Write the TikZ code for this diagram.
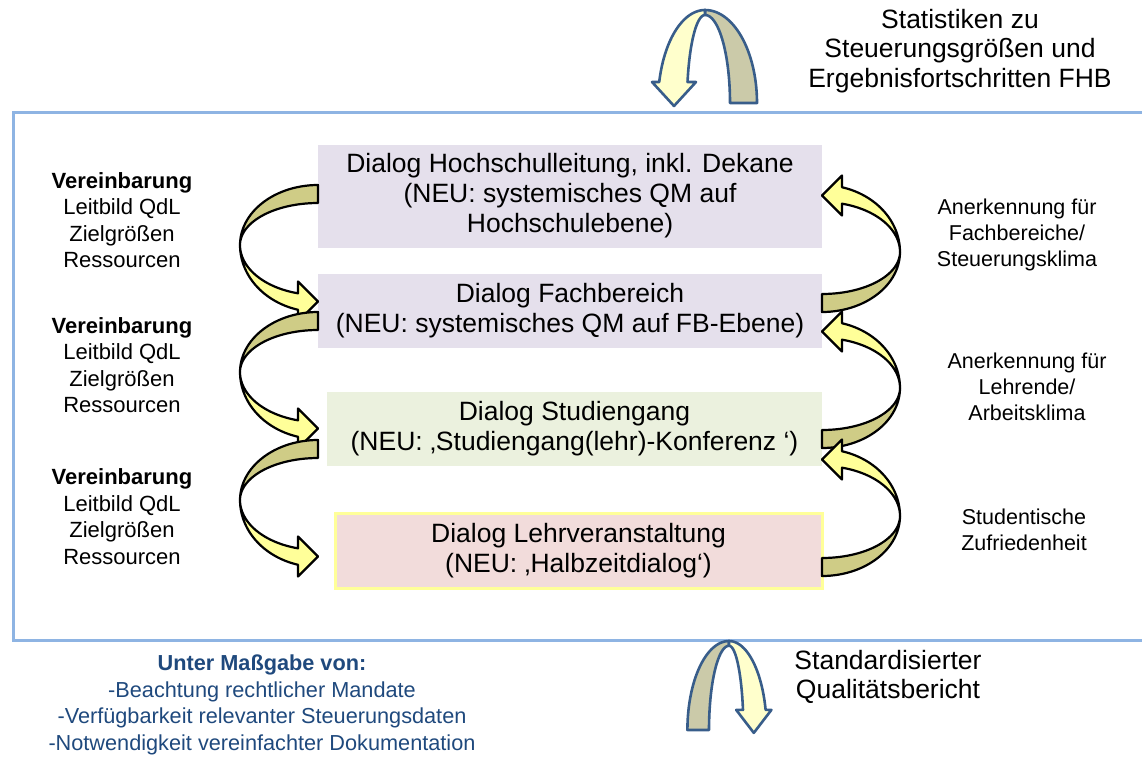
\documentclass[tikz,border=0pt]{standalone}
\usepackage{fontspec}
\setmainfont{Liberation Sans}
\usepackage{tikz}

\definecolor{rahmenblau}{HTML}{8EB4E3}
\definecolor{boxlila}{HTML}{E5E0EC}
\definecolor{boxgruen}{HTML}{EBF1DE}
\definecolor{boxrosa}{HTML}{F2DCDB}
\definecolor{randgelb}{HTML}{FFFF99}
\definecolor{pfeilgelb}{HTML}{FFFF99}
\definecolor{pfeiloliv}{HTML}{CFCC86}
\definecolor{bogengelb}{HTML}{FFFFCC}
\definecolor{bogenoliv}{HTML}{CBCAA9}
\definecolor{bogenrand}{HTML}{385D8A}
\definecolor{textblau}{HTML}{1F497D}

\tikzset{
  dialogbox/.style={minimum width=504pt, minimum height=74pt, inner sep=0pt, align=center,
    font=\fontsize{26.5}{30}\selectfont},
  linkstext/.style={align=center, inner sep=0pt, font=\fontsize{22}{26.5}\selectfont},
  rechtstext/.style={align=center, inner sep=0pt, font=\fontsize{21.5}{26}\selectfont},
  grosstext/.style={align=center, inner sep=0pt, font=\fontsize{26.5}{29.5}\selectfont},
  pfeilrand/.style={draw=black, line width=2.2pt, line join=round},
  bogenrand/.style={draw=bogenrand, line width=2.6pt, line join=round},
  % gedrehter Pfeil zwischen zwei Ebenen
  wendepfeil/.pic={
    \filldraw[pfeilrand, fill=pfeiloliv] (0,-60)
      -- plot[domain=270:180, samples=30] ({78*cos(\x)},{60*sin(\x)})
      -- plot[domain=180:270, samples=30] ({78*cos(\x)},{42*sin(\x)}) -- cycle;
    \filldraw[pfeilrand, fill=pfeilgelb] (-78,0)
      -- plot[domain=180:104.86, samples=30] ({78*cos(\x)},{67*sin(\x)})
      -- (-20,76.5) -- (0,56.5) -- (-20,36.5)
      -- plot[domain=104.86:180, samples=30] ({78*cos(\x)},{50*sin(\x)}) -- cycle;
  },
  % Bogenpfeil oben/unten
  bogenpfeil/.pic={
    \filldraw[bogenrand, fill=bogenoliv] (52,0)
      -- plot[domain=360:270, samples=30] ({52*cos(\x)},{93*sin(\x)})
      -- (0,-88)
      -- plot[domain=270:360, samples=30] ({25*cos(\x)},{88*sin(\x)}) -- cycle;
    \filldraw[bogenrand, fill=bogengelb] (0,-93)
      -- plot[domain=270:193.05, samples=30] ({47*cos(\x)},{93*sin(\x)})
      -- (-53,-21) -- (-31,3) -- (-9,-21)
      -- plot[domain=193.8:270, samples=30] ({18*cos(\x)},{88*sin(\x)}) -- cycle;
  }
}

\begin{document}
\begin{tikzpicture}[x=1pt, y=-1pt]
\useasboundingbox (0,0) rectangle (1142,758);

% Rahmen
\draw[rahmenblau, line width=3pt] (13,112) rectangle (1160,640);

% Dialogebenen
\node[dialogbox, fill=boxlila, minimum height=103pt] (hsl) at (570,196)
  {Dialog Hochschulleitung, inkl. Dekane\\(NEU: systemisches QM auf\\Hochschulebene)};
\node[dialogbox, fill=boxlila] (fb) at (570,311)
  {Dialog Fachbereich\\(NEU: systemisches QM auf FB-Ebene)};
\node[dialogbox, fill=boxgruen, minimum width=495pt] (sg) at (574.5,429)
  {Dialog Studiengang\\(NEU: ‚Studiengang(lehr)-Konferenz ‘)};
\node[dialogbox, fill=boxrosa, draw=randgelb, line width=3pt, minimum width=487pt, minimum height=75pt] (lv) at (578.5,551)
  {Dialog Lehrveranstaltung\\(NEU: ‚Halbzeitdialog‘)};

% Pfeile links (nach unten)
\pic at (318,245) {wendepfeil};
\pic at (318,372) {wendepfeil};
\pic at (318,500) {wendepfeil};

% Pfeile rechts (nach oben)
\pic[rotate=180] at (822,252) {wendepfeil};
\pic[rotate=180] at (822,388) {wendepfeil};
\pic[rotate=180] at (822,516) {wendepfeil};

% Bogenpfeile
\pic at (705,103) {bogenpfeil};
\pic[xscale=-0.8, yscale=0.957] at (729,730) {bogenpfeil};

% Texte links
\node[linkstext] (vb1) at (122,220) {\textbf{Vereinbarung}\\Leitbild QdL\\Zielgrößen\\Ressourcen};
\node[linkstext] (vb2) at (122,365) {\textbf{Vereinbarung}\\Leitbild QdL\\Zielgrößen\\Ressourcen};
\node[linkstext] (vb3) at (122,516.5) {\textbf{Vereinbarung}\\Leitbild QdL\\Zielgrößen\\Ressourcen};

% Texte rechts
\node[rechtstext] (ak1) at (1017,235) {Anerkennung für\\Fachbereiche/\\Steuerungsklima};
\node[rechtstext] (ak2) at (1027,387) {Anerkennung für\\Lehrende/\\Arbeitsklima};
\node[rechtstext] (zuf) at (1024,530) {Studentische\\Zufriedenheit};

% oben und unten
\node[grosstext] (stat) at (960,51) {Statistiken zu\\Steuerungsgrößen und\\Ergebnisfortschritten FHB};
\node[grosstext] (qb) at (888,677) {Standardisierter\\Qualitätsbericht};
\node[linkstext, text=textblau, font=\fontsize{21.7}{26.7}\selectfont] (mg) at (262,705)
  {\textbf{Unter Maßgabe von:}\\-Beachtung rechtlicher Mandate\\-Verfügbarkeit relevanter Steuerungsdaten\\-Notwendigkeit vereinfachter Dokumentation};

\end{tikzpicture}
\end{document}
